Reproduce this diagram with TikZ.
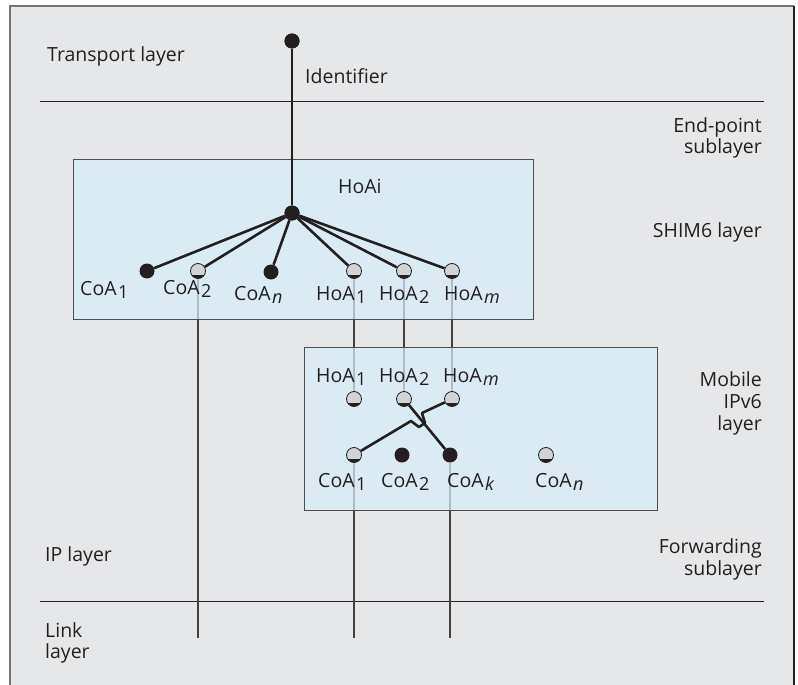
\documentclass[tikz,border=0pt]{standalone}
\usepackage{fontspec}
\setmainfont{Open Sans}
\definecolor{bggray}{HTML}{E6E7E8}
\definecolor{boxblue}{HTML}{D8EDF9}
\definecolor{dotgray}{HTML}{D2D3D4}
\definecolor{ink}{HTML}{231F20}
\pgfdeclarelayer{framelayer}
\pgfdeclarelayer{linelayer}
\pgfdeclarelayer{boxlayer}
\pgfsetlayers{framelayer,linelayer,boxlayer,main}
\newcommand\sbs[1]{\kern1.5pt\raisebox{-3.5pt}{\fontsize{18}{18}\selectfont #1}}
\tikzset{
  lbl/.style={font=\fontsize{19.5}{22}\selectfont, inner sep=0pt, anchor=base west, text=ink},
  lblr/.style={font=\fontsize{19.5}{22}\selectfont, inner sep=0pt, anchor=base east, text=ink},
  fulldot/.style={circle, fill=ink, minimum size=15pt, inner sep=0pt},
  halfdot/.style={circle, minimum size=15pt, inner sep=0pt, draw=ink, line width=0.8pt, fill=dotgray,
    path picture={\fill[ink] (path picture bounding box.south west) rectangle ([yshift=-3.8pt]path picture bounding box.east);}},
  hubline/.style={draw=ink, line width=2.6pt, line join=round},
  thinline/.style={draw=ink!85, line width=1.1pt},
  layerbox/.style={draw=ink!80, line width=1pt, fill=boxblue, fill opacity=0.72},
  sepline/.style={draw=ink, line width=1pt}
}
\begin{document}
\begin{tikzpicture}[x=1pt,y=-1pt]
\useasboundingbox (0,0) rectangle (798,685);
% frame
\begin{pgfonlayer}{framelayer}
  \fill[bggray] (10,6) rectangle (794,690);
  \draw[line width=1.5pt, draw=black!55] (10,690) -- (10,6) -- (794,6);
  \draw[line width=1.5pt, draw=ink] (794,6) -- (794,690);
  \draw[sepline] (40,101) -- (764,101);
  \draw[sepline] (40,601) -- (764,601);
\end{pgfonlayer}
% dots
\node[fulldot] (top) at (292,41) {};
\node[fulldot] (hub) at (292,213) {};
\node[fulldot] (sc1) at (147,271) {};
\node[halfdot] (sc2) at (198,271) {};
\node[fulldot] (scn) at (271,272) {};
\node[halfdot] (sh1) at (354,271) {};
\node[halfdot] (sh2) at (404,271) {};
\node[halfdot] (shm) at (452,271) {};
\node[halfdot] (mh1) at (354,399) {};
\node[halfdot] (mh2) at (404,399) {};
\node[halfdot] (mhm) at (452,399) {};
\node[halfdot] (mc1) at (354,455) {};
\node[fulldot] (mc2) at (402,455) {};
\node[fulldot] (mck) at (450,455) {};
\node[halfdot] (mcn) at (546,455) {};
\coordinate (b1) at (198,638);
\coordinate (b2) at (354,638);
\coordinate (b3) at (450,638);
% thin connectors under the boxes
\begin{pgfonlayer}{linelayer}
  \draw[thinline] (sc2) -- (b1);
  \draw[thinline] (sh1) -- (mh1);
  \draw[thinline] (sh2) -- (mh2);
  \draw[thinline] (shm) -- (mhm);
  \draw[thinline] (mc1) -- (b2);
  \draw[thinline] (mck) -- (b3);
\end{pgfonlayer}
% boxes
\begin{pgfonlayer}{boxlayer}
  \path[layerbox] (73,159) rectangle (533,319);
  \path[layerbox] (304,347) rectangle (657,510);
  \draw[draw=ink!80, line width=1pt] (73,159) rectangle (533,319);
  \draw[draw=ink!80, line width=1pt] (304,347) rectangle (657,510);
\end{pgfonlayer}
% thick connectors
\draw[hubline] (top) -- (hub);
\draw[hubline] (hub) -- (sc1);
\draw[hubline] (hub) -- (sc2);
\draw[hubline] (hub) -- (scn);
\draw[hubline] (hub) -- (sh1);
\draw[hubline] (hub) -- (sh2);
\draw[hubline] (hub) -- (shm);
\draw[hubline] (mh2) -- (mck);
\draw[hubline] (mhm) -- (422,413) -- (425,423) -- (419,427) -- (411,421) -- (mc1);
% redraw dots on top
\node[fulldot] at (top) {};
\node[fulldot] at (hub) {};
% labels
\node[lbl] (ltrans) at (47,62) {Transport layer};
\node[lbl] (lident) at (305,84) {Identifier};
\node[lbl] (lhoai) at (338,193) {HoAi};
\node[lbl] (lsc1) at (80,295) {CoA\sbs{1}};
\node[lbl] (lsc2) at (163,294) {CoA\sbs{2}};
\node[lbl] (lscn) at (234,300) {CoA\sbs{\itshape n}};
\node[lbl] (lsh1) at (316,300) {HoA\sbs{1}};
\node[lbl] (lsh2) at (379,300) {HoA\sbs{2}};
\node[lbl] (lshm) at (444,300) {HoA\sbs{\itshape m}};
\node[lbl] (lmh1) at (316,382) {HoA\sbs{1}};
\node[lbl] (lmh2) at (379,382) {HoA\sbs{2}};
\node[lbl] (lmhm) at (443,382) {HoA\sbs{\itshape m}};
\node[lbl] (lmc1) at (318,487) {CoA\sbs{1}};
\node[lbl] (lmc2) at (381,487) {CoA\sbs{2}};
\node[lbl] (lmck) at (447,487) {CoA\sbs{\itshape k}};
\node[lbl] (lmcn) at (535,487) {CoA\sbs{\itshape n}};
\node[lblr] (lep1) at (762,132) {End-point};
\node[lblr] (lep2) at (762,153) {sublayer};
\node[lblr] (lshim) at (762,237) {SHIM6 layer};
\node[lblr] (lmob1) at (762,386) {Mobile};
\node[lblr] (lmob2) at (762,408) {IPv6};
\node[lblr] (lmob3) at (762,430) {layer};
\node[lblr] (lfw1) at (762,553) {Forwarding};
\node[lblr] (lfw2) at (762,575) {sublayer};
\node[lbl] (lip) at (45,561) {IP layer};
\node[lbl] (llink1) at (45,637) {Link};
\node[lbl] (llink2) at (45,658) {layer};
\end{tikzpicture}
\end{document}
